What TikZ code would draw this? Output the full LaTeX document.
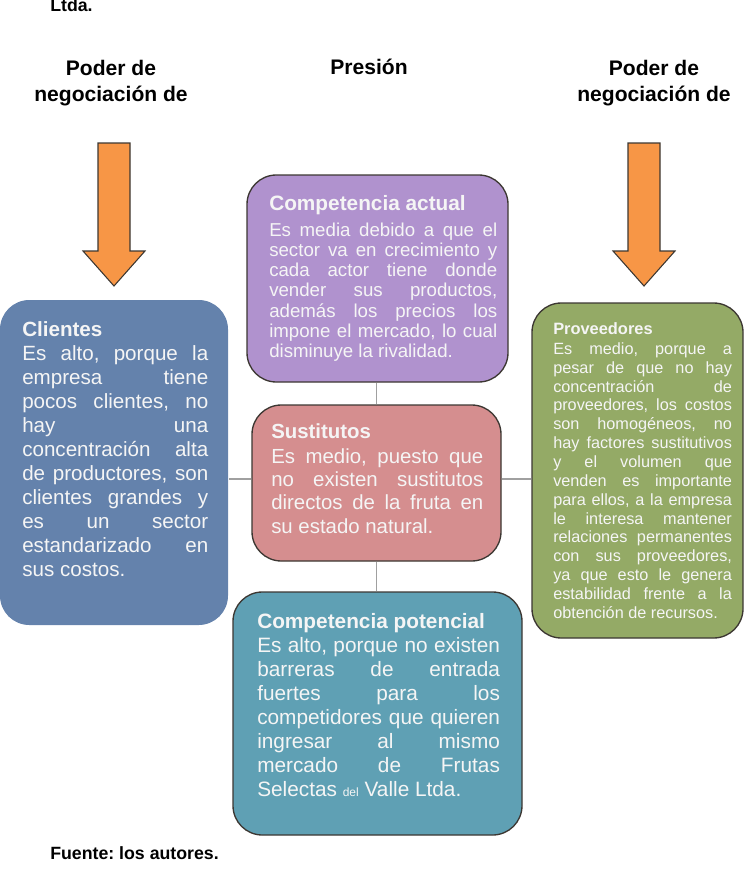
\documentclass[tikz,border=0pt]{standalone}
\usepackage{fontspec}
\setmainfont{Liberation Sans}
\frenchspacing
\definecolor{cliFill}{RGB}{100,130,172}
\definecolor{actFill}{RGB}{176,146,206}
\definecolor{susFill}{RGB}{213,142,143}
\definecolor{potFill}{RGB}{95,160,180}
\definecolor{proFill}{RGB}{148,170,102}
\definecolor{arrowFill}{RGB}{247,150,70}
\definecolor{edgeDark}{RGB}{60,55,50}
\definecolor{linkGray}{RGB}{160,160,160}
\definecolor{boxText}{RGB}{245,245,245}
\newcommand{\bodyfont}[2]{\fontsize{#1}{#2}\selectfont\tolerance=10000\hbadness=10000\hyphenpenalty=10000}
\tikzset{
  forcebox/.style={rectangle, rounded corners=22pt, draw=edgeDark, line width=1pt, inner sep=0pt},
  titletext/.style={text=boxText, inner sep=0pt, anchor=base west},
  bodytext/.style={text=boxText, inner sep=0pt, anchor=base west, align=justify},
  heading/.style={inner sep=0pt, anchor=base, font=\bfseries\fontsize{15.8pt}{18pt}\selectfont},
  caption/.style={inner sep=0pt, anchor=base west, font=\bfseries\fontsize{13.3pt}{16pt}\selectfont},
  link/.style={draw=linkGray, line width=1.1pt},
  bigarrow/.style={fill=arrowFill, draw=edgeDark, line width=0.8pt, line join=miter}
}
\begin{document}
\begin{tikzpicture}[x=0.75pt,y=-0.75pt]
\useasboundingbox (0,0) rectangle (744,881);

% caption lines
\node[caption] (ltda) at (50,12) {Ltda.};
\node[caption] (fuente) at (50,859) {Fuente: los autores.};

% column headings
\node[heading] (hl1) at (111,75) {Poder de};
\node[heading] (hl2) at (111,102) {negociación de};
\node[heading] (hc) at (369,74.5) {Presión};
\node[heading] (hr1) at (654,75) {Poder de};
\node[heading] (hr2) at (654,102) {negociación de};

% block arrows
\draw[bigarrow] (98,143) -- (130,143) -- (130,251) -- (145,251) -- (114,286)
  -- (83,251) -- (98,251) -- cycle;
\draw[bigarrow] (628,143) -- (660,143) -- (660,251) -- (675,251) -- (644,286)
  -- (613,251) -- (628,251) -- cycle;

% force boxes
\node[forcebox, draw=none, fill=cliFill, minimum width=171pt, minimum height=243.75pt] (cli) at (114,462.5) {};
\node[forcebox, fill=actFill, minimum width=195.75pt, minimum height=155.25pt] (act) at (377.5,278.5) {};
\node[forcebox, fill=susFill, minimum width=186.75pt, minimum height=117pt] (sus) at (376.5,483) {};
\node[forcebox, fill=potFill, minimum width=216.75pt, minimum height=182.25pt] (pot) at (377.5,713.5) {};
\node[forcebox, fill=proFill, minimum width=158.25pt, minimum height=251.25pt] (pro) at (637.5,470.5) {};

% connectors
\draw[link] (sus.north) -- (sus.north |- act.south);
\draw[link] (sus.south) -- (sus.south |- pot.north);
\draw[link] ([yshift=3pt]sus.west) -- ([yshift=3pt]sus.west -| cli.east);
\draw[link] ([yshift=3pt]sus.east) -- ([yshift=3pt]sus.east -| pro.west);

% Clientes
\node[titletext, font=\bfseries\fontsize{15.45pt}{18pt}\selectfont] (cliT) at (22,336) {Clientes};
\node[bodytext, text width=139.5pt, font=\bodyfont{15.45pt}{18pt}] (cliB) at (22,360.5) {%
Es alto, porque la\linebreak
empresa tiene\linebreak
pocos clientes, no\linebreak
hay una\linebreak
concentración alta\linebreak
de productores, son\linebreak
clientes grandes y\linebreak
es un sector\linebreak
estandarizado en\linebreak
sus costos.};

% Competencia actual
\node[titletext, font=\bfseries\fontsize{15.6pt}{18pt}\selectfont] (actT) at (269,210.5) {Competencia actual};
\node[bodytext, text width=171pt, font=\bodyfont{14pt}{15.1pt}] (actB) at (269,236.5) {%
Es media debido a que el\linebreak
sector va en crecimiento y\linebreak
cada actor tiene donde\linebreak
vender sus productos,\linebreak
además los precios los\linebreak
impone el mercado, lo cual\linebreak
disminuye la rivalidad.};

% Sustitutos
\node[titletext, font=\bfseries\fontsize{15.3pt}{17.5pt}\selectfont] (susT) at (271,438) {Sustitutos};
\node[bodytext, text width=159pt, font=\bodyfont{15.3pt}{17.5pt}] (susB) at (271,463) {%
Es medio, puesto que\linebreak
no existen sustitutos\linebreak
directos de la fruta en\linebreak
su estado natural.};

% Proveedores
\node[titletext, font=\bfseries\fontsize{12.3pt}{14.15pt}\selectfont] (proT) at (553,334) {Proveedores};
\node[bodytext, text width=134pt, font=\bodyfont{12.2pt}{14.15pt}] (proB) at (553,354.3) {%
Es medio, porque a\linebreak
pesar de que no hay\linebreak
concentración de\linebreak
proveedores, los costos\linebreak
son homogéneos, no\linebreak
hay factores sustitutivos\linebreak
y el volumen que\linebreak
venden es importante\linebreak
para ellos, a la empresa\linebreak
le interesa mantener\linebreak
relaciones permanentes\linebreak
con sus proveedores,\linebreak
ya que esto le genera\linebreak
estabilidad frente a la\linebreak
obtención de recursos.};

% Competencia potencial
\node[titletext, font=\bfseries\fontsize{15.6pt}{18pt}\selectfont] (potT) at (257,628) {Competencia potencial};
\node[bodytext, text width=182pt, font=\bodyfont{15.6pt}{18pt}] (potB) at (257,652.7) {%
Es alto, porque no existen\linebreak
barreras de entrada\linebreak
fuertes para los\linebreak
competidores que quieren\linebreak
ingresar al mismo\linebreak
mercado de Frutas\linebreak
Selectas {\fontsize{9pt}{10pt}\selectfont del} Valle Ltda.};
\end{tikzpicture}
\end{document}
